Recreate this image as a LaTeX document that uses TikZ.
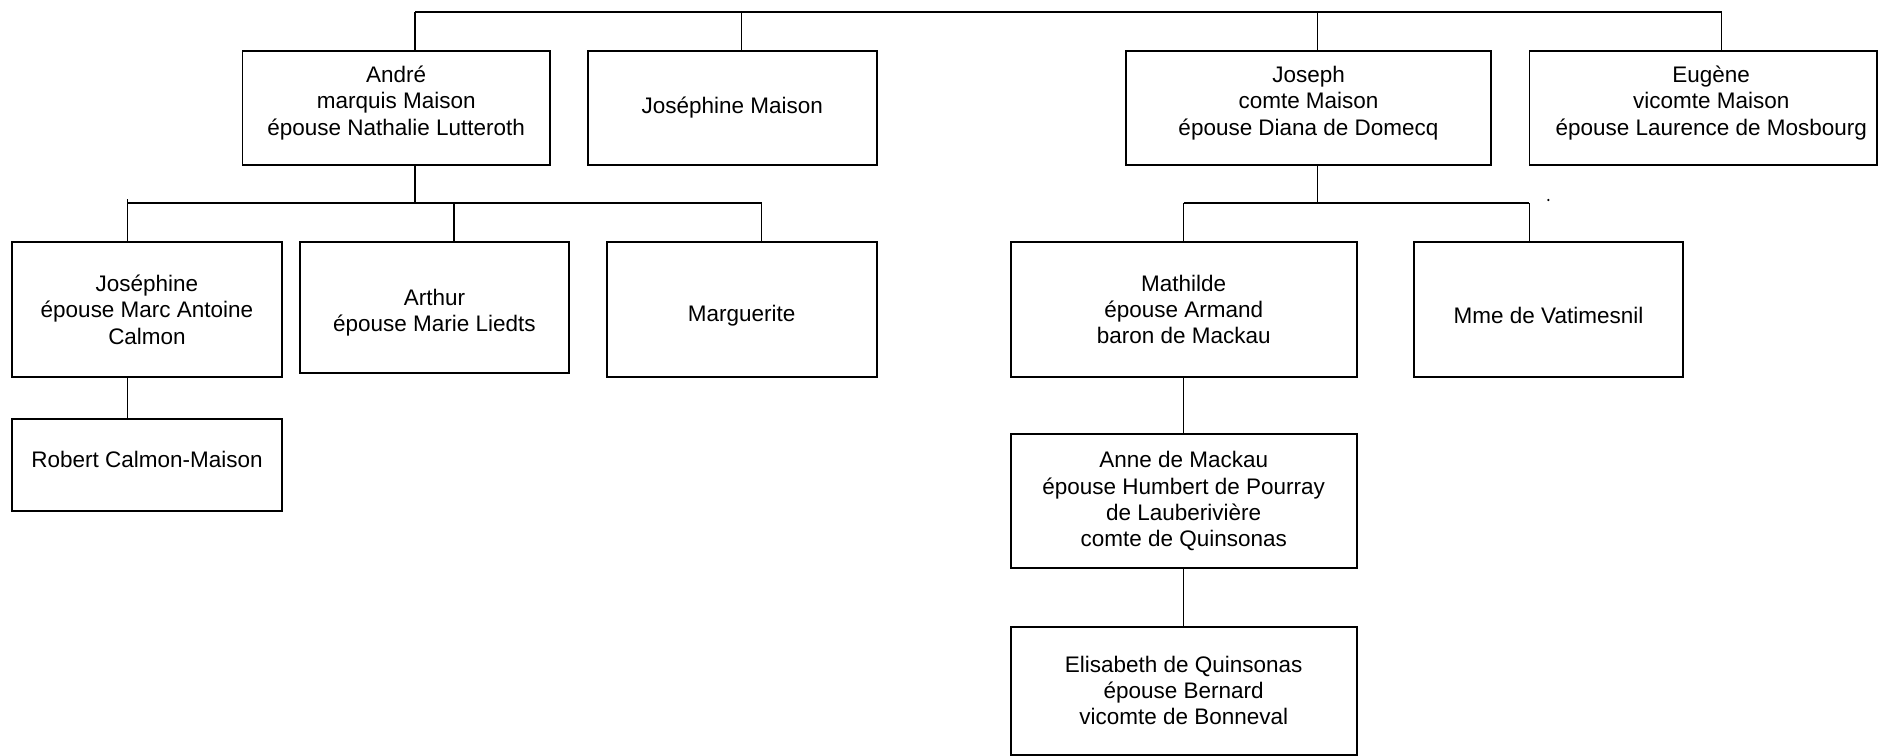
\documentclass[tikz,border=0pt]{standalone}
\usepackage{fontspec}
\setmainfont{Liberation Sans}

\begin{document}
\begin{tikzpicture}[x=0.02cm, y=-0.02cm,
  pbox/.style={draw, line width=1.1pt, inner sep=0pt},
  ptext/.style={inner sep=0pt, align=center, font=\fontsize{12.8}{15}\selectfont},
  link/.style={line width=0.8pt},
  bar/.style={line width=1.1pt}]

\useasboundingbox (0,0) rectangle (1879,756);

% first row
\node[pbox, minimum width=6.15cm, minimum height=2.29cm] (andre) at (396.2,108) {};
\node[ptext] (andre-t) at ([yshift=0.1cm]andre) {André\\marquis Maison\\épouse Nathalie Lutteroth};
\node[pbox, minimum width=5.78cm, minimum height=2.29cm] (jm) at (732.2,108) {};
\node[ptext] (jm-t) at (jm) {Joséphine Maison};
\node[pbox, minimum width=7.30cm, minimum height=2.29cm] (joseph) at (1308.5,108) {};
\node[ptext] (joseph-t) at ([yshift=0.1cm]joseph) {Joseph\\comte Maison\\épouse Diana de Domecq};
\node[pbox, minimum width=6.95cm, minimum height=2.29cm] (eugene) at (1703.2,108) {};
\node[ptext] (eugene-t) at ([xshift=0.16cm, yshift=0.1cm]eugene) {Eugène\\vicomte Maison\\épouse Laurence de Mosbourg};

% children of André
\node[pbox, minimum width=5.39cm, minimum height=2.69cm] (jose) at (147,309.5) {};
\node[ptext] (jose-t) at (jose) {Joséphine\\épouse Marc Antoine\\Calmon};
\node[pbox, minimum width=5.38cm, minimum height=2.61cm] (arthur) at (434.4,307.5) {};
\node[ptext] (arthur-t) at ([yshift=-0.1cm]arthur) {Arthur\\épouse Marie Liedts};
\node[pbox, minimum width=5.40cm, minimum height=2.69cm] (marg) at (741.7,309.5) {};
\node[ptext] (marg-t) at ([yshift=-0.13cm]marg) {Marguerite};
\node[pbox, minimum width=5.39cm, minimum height=1.83cm] (robert) at (147,465.2) {};
\node[ptext] (robert-t) at ([yshift=0.12cm]robert) {Robert Calmon-Maison};

% children of Joseph
\node[pbox, minimum width=6.92cm, minimum height=2.69cm] (mathilde) at (1183.7,309.5) {};
\node[ptext] (mathilde-t) at (mathilde) {Mathilde\\épouse Armand\\baron de Mackau};
\node[pbox, minimum width=5.39cm, minimum height=2.69cm] (vatim) at (1548.5,309.5) {};
\node[ptext] (vatim-t) at ([yshift=-0.12cm]vatim) {Mme de Vatimesnil};
\node[pbox, minimum width=6.92cm, minimum height=2.67cm] (anne) at (1183.7,501.2) {};
\node[ptext] (anne-t) at (anne) {Anne de Mackau\\épouse Humbert de Pourray\\de Lauberivière\\comte de Quinsonas};
\node[pbox, minimum width=6.92cm, minimum height=2.56cm] (elis) at (1183.7,690.6) {};
\node[ptext] (elis-t) at (elis) {Elisabeth de Quinsonas\\épouse Bernard\\vicomte de Bonneval};

% top bar
\coordinate (top1) at (415,11.7);
\coordinate (top2) at (741.7,11.7);
\coordinate (top3) at (1317.7,11.7);
\coordinate (top4) at (1721.7,11.7);
\draw[bar] (top1) -- (top4);
\foreach \c/\n in {top1/andre, top2/jm, top3/joseph, top4/eugene}
  \draw[link] (\c) -- (\c |- \n.north);

% André's line
\coordinate (a0) at (415,203.3);
\coordinate (a1) at (127.7,203.3);
\coordinate (a2) at (454,203.3);
\coordinate (a3) at (761.7,203.3);
\coordinate (tick) at (127.7,199.3);
\draw[link] (a0 |- andre.south) -- (a0);
\draw[bar] (a1) -- (a3);
\draw[link] (tick) -- (tick |- jose.north);
\draw[link] (a2) -- (a2 |- arthur.north);
\draw[link] (a3) -- (a3 |- marg.north);
\draw[link] (a1 |- jose.south) -- (a1 |- robert.north);

% Joseph's line
\coordinate (j0) at (1317.7,203.3);
\coordinate (j1) at (1183.7,203.3);
\coordinate (j2) at (1529.3,203.3);
\draw[link] (j0 |- joseph.south) -- (j0);
\draw[bar] (j1) -- (j2);
\draw[link] (j1) -- (mathilde.north);
\draw[link] (j2) -- (j2 |- vatim.north);
\draw[link] (mathilde) -- (anne);
\draw[link] (anne) -- (elis);

\fill (1548.3,200) circle (0.7pt);

\end{tikzpicture}
\end{document}
